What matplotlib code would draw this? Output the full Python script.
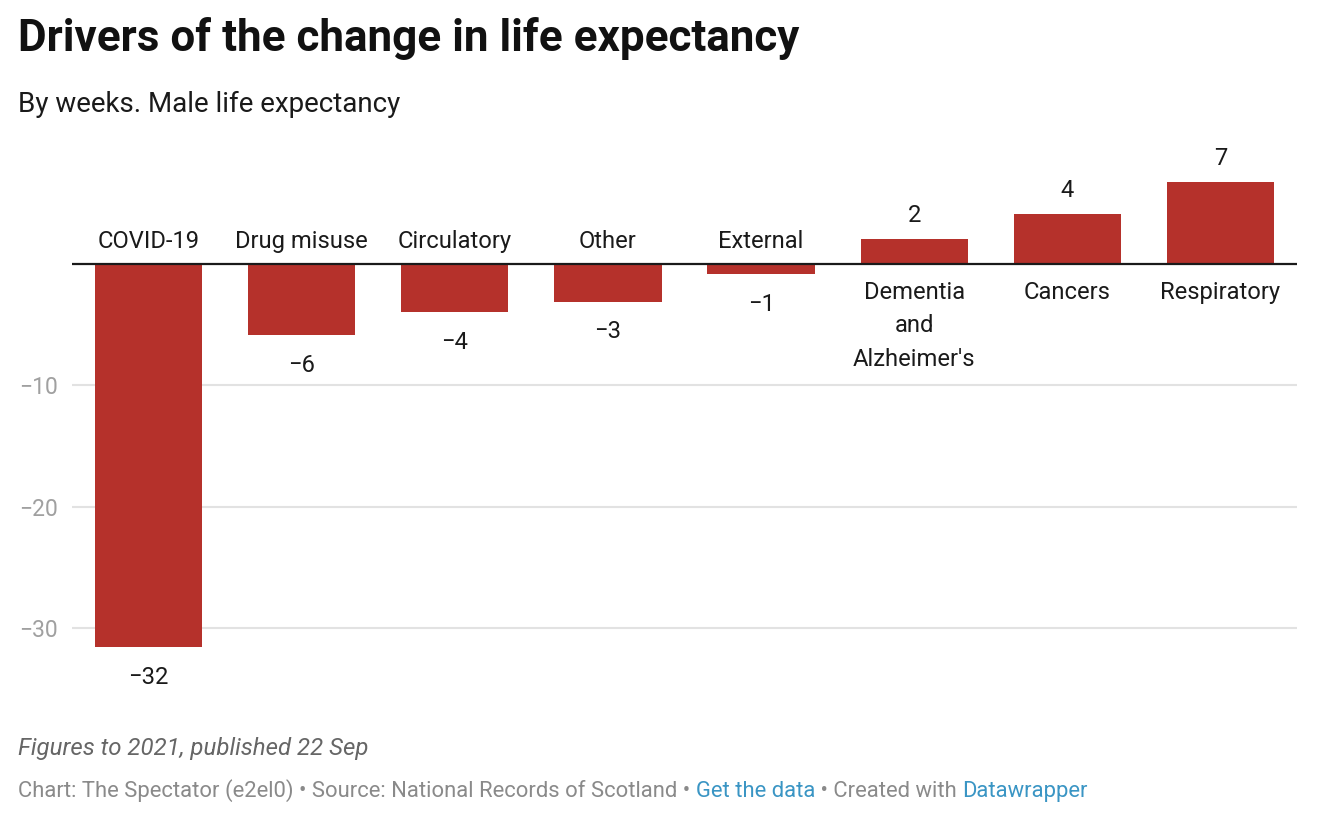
import matplotlib
matplotlib.use("Agg")
import matplotlib.pyplot as plt

categories = ["COVID-19", "Drug misuse", "Circulatory", "Other", "External",
              "Dementia\nand\nAlzheimer's", "Cancers", "Respiratory"]
values = [-31.6, -5.85, -3.95, -3.1, -0.82, 2.05, 4.1, 6.75]
value_labels = ["\u221232", "\u22126", "\u22124", "\u22123", "\u22121", "2", "4", "7"]
yticks = [-30, -20, -10]
ytick_labels = ["\u221230", "\u221220", "\u221210"]

plt.rcParams['font.family'] = ['Roboto', 'DejaVu Sans']

W, H = 1344, 840
fig = plt.figure(figsize=(W / 100, H / 100), dpi=100)

# axes placement in pixels
x0, x1 = 72, 1297
ytop, ybot = 140, 700
ax = fig.add_axes([x0 / W, 1 - ybot / H, (x1 - x0) / W, (ybot - ytop) / H])
scale = (628 - 264) / 30.0
ax.set_ylim(-(ybot - 264) / scale, (264 - ytop) / scale)
ax.set_xlim(-0.5, len(categories) - 0.5)

bar_color = "#b5312b"
xs = list(range(len(categories)))
ax.bar(xs, values, width=0.70, color=bar_color, zorder=3)

for t in yticks:
    ax.axhline(t, color="#e2e2e2", lw=1.5, zorder=1)
ax.axhline(0, color="#1a1a1a", lw=1.6, zorder=4)

ax.set_yticks(yticks)
ax.set_yticklabels(ytick_labels)
ax.tick_params(axis="y", length=0, pad=10, labelsize=16.5, labelcolor="#a0a0a0")
ax.set_xticks([])
for s in ax.spines.values():
    s.set_visible(False)

fs = 17.1
for x, v, cat, lab in zip(xs, values, categories, value_labels):
    if v < 0:
        ax.annotate(cat, (x, 0), xytext=(0, 8), textcoords="offset points",
                    ha="center", va="bottom", fontsize=fs, color="#1a1a1a")
        ax.annotate(lab, (x, v), xytext=(0, -13.5), textcoords="offset points",
                    ha="center", va="top", fontsize=fs, color="#1a1a1a")
    else:
        ax.annotate(lab, (x, v), xytext=(0, 9), textcoords="offset points",
                    ha="center", va="bottom", fontsize=fs, color="#1a1a1a")
        ax.annotate(cat, (x, 0), xytext=(0, -12.5), textcoords="offset points",
                    ha="center", va="top", fontsize=fs, color="#1a1a1a",
                    linespacing=1.56)

fig.text(18 / W, 1 - 39 / H, "Drivers of the change in life expectancy",
         fontsize=31.7, fontweight="bold", color="#111111", va="center", ha="left")
fig.text(18 / W, 1 - 104 / H, "By weeks. Male life expectancy",
         fontsize=20, color="#1a1a1a", va="center", ha="left")
fig.text(18 / W, 1 - 749 / H, "Figures to 2021, published 22 Sep",
         fontsize=17.3, style="italic", color="#666666", va="center", ha="left")

# footer credit line with coloured segments
parts = [("Chart: The Spectator (e2el0) \u2022 Source: National Records of Scotland \u2022 ", "#8a8a8a"),
         ("Get the data", "#3a95c4"),
         (" \u2022 Created with ", "#8a8a8a"),
         ("Datawrapper", "#3a95c4")]
fig.canvas.draw()
r = fig.canvas.get_renderer()
xpos = 18 / W
for txt, col in parts:
    t = fig.text(xpos, 1 - 797 / H, txt, fontsize=15.8, color=col, va="baseline", ha="left")
    bb = t.get_window_extent(renderer=r)
    xpos += bb.width / W

fig.savefig("out.png", dpi=100, facecolor="white")
